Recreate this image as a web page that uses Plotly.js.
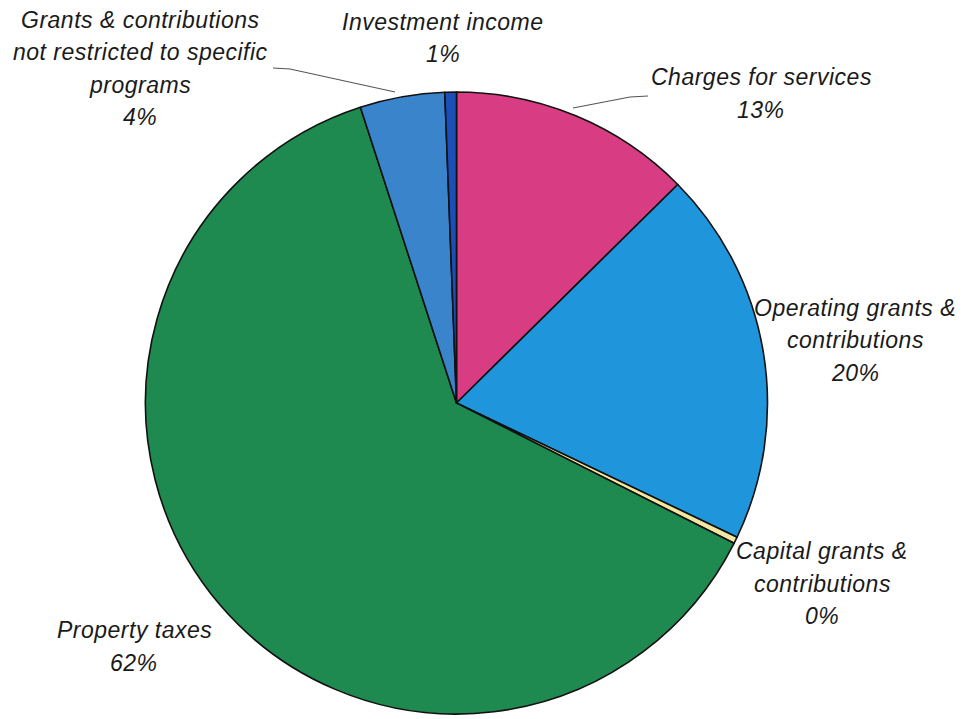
<!DOCTYPE html>
<html>
<head>
<meta charset="utf-8">
<script src="https://cdn.plot.ly/plotly-3.0.1.min.js"></script>
<style>
html,body{margin:0;padding:0;background:#fff;}
.annotation-text{letter-spacing:0.5px;}
</style>
</head>
<body>
<div id="chart" style="width:977px;height:719px;"></div>
<script>
// Data, clockwise from 12 o'clock
var categories = [
  "Charges for services",
  "Operating grants & contributions",
  "Capital grants & contributions",
  "Property taxes",
  "Grants & contributions not restricted to specific programs",
  "Investment income"
];
var values = [12.6, 19.5, 0.35, 62.55, 4.4, 0.6];
var percentLabels = ["13%", "20%", "0%", "62%", "4%", "1%"];
var labelLines = [
  ["Charges for services"],
  ["Operating grants &", "contributions"],
  ["Capital grants &", "contributions"],
  ["Property taxes"],
  ["Grants & contributions", "not restricted to specific", "programs"],
  ["Investment income"]
];
var colors = ["#d83c82", "#1f96dc", "#f2e6a0", "#1e8a50", "#3a84cc", "#1b4eb6"];

// Layout (pixel positions)
var W = 977, H = 719;
var cx = 456.5, cy = 403, r = 311;
var labelPos = [[761, 77], [855, 308], [822, 551], [134, 630], [140, 20], [443, 22]];
var lineStep = 32.5;
function px(x) { return x / W; }
function py(y) { return 1 - y / H; }

var annotations = [];
for (var i = 0; i < categories.length; i++) {
  var lines = labelLines[i].concat([percentLabels[i]]);
  for (var j = 0; j < lines.length; j++) {
    annotations.push({
      xref: "paper", yref: "paper",
      x: px(labelPos[i][0]), y: py(labelPos[i][1] + j * lineStep),
      xanchor: "center", yanchor: "middle",
      text: "<i>" + lines[j].replace(/&/g, "&amp;") + "</i>",
      showarrow: false,
      font: {family: "Liberation Sans, Arial, sans-serif", size: 23, color: "#1a1a1a"}
    });
  }
}

function pathFrom(pts) {
  return pts.map(function (p, k) { return (k ? "L" : "M") + px(p[0]) + "," + py(p[1]); }).join(" ");
}
var shapes = [
  {type: "path", xref: "paper", yref: "paper", path: pathFrom([[273, 68], [290, 69], [395, 92]]), line: {color: "#555", width: 1.2}},
  {type: "path", xref: "paper", yref: "paper", path: pathFrom([[573, 108], [630, 97], [648, 96]]), line: {color: "#555", width: 1.2}}
];

var trace = {
  type: "pie",
  labels: categories,
  values: values,
  sort: false,
  direction: "clockwise",
  rotation: 0,
  textinfo: "none",
  hoverinfo: "label+percent",
  marker: {colors: colors, line: {color: "#111", width: 1.6}},
  domain: {x: [px(cx - r), px(cx + r)], y: [py(cy + r), py(cy - r)]},
  showlegend: false
};

var layout = {
  width: W, height: H,
  margin: {l: 0, r: 0, t: 0, b: 0},
  paper_bgcolor: "#ffffff",
  showlegend: false,
  annotations: annotations,
  shapes: shapes
};

Plotly.newPlot("chart", [trace], layout, {displayModeBar: false, staticPlot: true});
</script>
</body>
</html>
